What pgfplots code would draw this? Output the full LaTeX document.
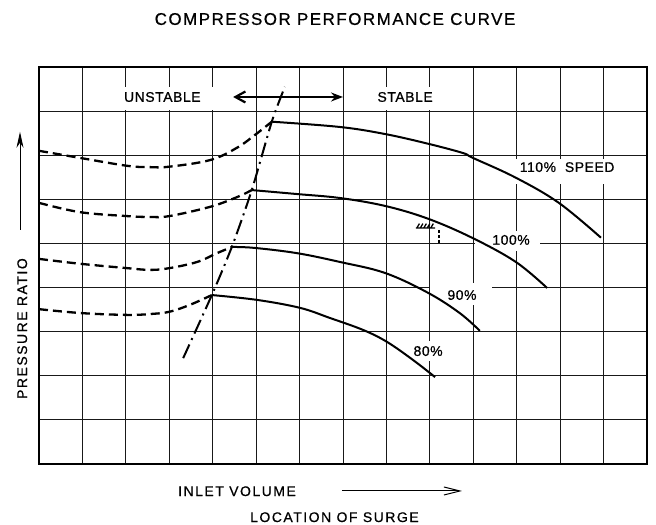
\documentclass[border=0pt]{standalone}
\usepackage{fontspec}
\setmainfont{Liberation Sans}
\usepackage{pgfplots}
\pgfplotsset{compat=1.18}
\usetikzlibrary{arrows.meta}
\newfontfamily\lbl[LetterSpace=4, FakeBold=0.7]{Liberation Sans}
\newfontfamily\ttl[LetterSpace=9, FakeBold=0.7]{Liberation Sans}
\newfontfamily\btm[LetterSpace=11, FakeBold=0.7]{Liberation Sans}
\tikzset{
 dsh/.style={black, line width=2.3bp, dash pattern=on 9bp off 5bp, smooth, tension=0.6},
 sld/.style={black, line width=2bp, smooth, tension=0.6},
 wbox/.style={fill=white, inner sep=0pt, draw=none},
 lab/.style={font=\lbl\fontsize{14}{16}\selectfont, inner sep=0pt}}
\begin{document}
\begin{tikzpicture}
\begin{axis}[name=ax, scale only axis, width=608bp, height=397bp,
 xmin=0, xmax=14, ymin=0, ymax=9,
 xtick={0,...,14}, ytick={0,...,9}, xticklabels={}, yticklabels={},
 major tick length=0pt,
 grid=major, major grid style={black!90, line width=0.9bp},
 axis line style={black, line width=1.2bp},
 clip=false, unbounded coords=jump]
% white gaps in the grid around labels
\node[wbox, minimum width=98bp, minimum height=23bp] at (axis cs:2.95,8.29) {};
\node[wbox, minimum width=68bp, minimum height=23bp] at (axis cs:8.45,8.29) {};
\node[wbox, minimum width=110bp, minimum height=25bp] at (axis cs:12.0,6.64) {};
\node[wbox, minimum width=65bp, minimum height=20bp] at (axis cs:10.79,5.06) {};
\node[wbox, minimum width=62bp, minimum height=22bp] at (axis cs:9.72,3.85) {};
\node[wbox, minimum width=40bp, minimum height=20bp] at (axis cs:8.96,2.56) {};
% labels inside
\node[lab] at (axis cs:2.84,8.32) {UNSTABLE};
\node[lab] at (axis cs:8.43,8.32) {STABLE};
\node[lab] at (axis cs:12.16,6.73) {110\%\ \ SPEED};
\node[lab] at (axis cs:10.87,5.08) {100\%};
\node[lab] at (axis cs:9.74,3.83) {90\%};
\node[lab] at (axis cs:8.96,2.56) {80\%};
% 110 %
\addplot[dsh] coordinates {(0,7.10) (0.94,6.94) (2.03,6.76) (2.56,6.73) (3.0,6.74) (3.94,6.89) (4.56,7.17) (5.0,7.48) (5.36,7.76)};
\addplot[sld] coordinates {(5.36,7.76) (6.93,7.64) (7.97,7.48) (8.96,7.26) (9.76,7.05) (9.99,6.94) (10.98,6.49) (11.97,5.92) (12.94,5.13)};
% 100 %
\addplot[dsh] coordinates {(0,5.92) (0.94,5.71) (2.03,5.62) (2.56,5.60) (3.0,5.62) (3.94,5.83) (4.56,6.05) (4.90,6.21)};
\addplot[sld] coordinates {(4.90,6.21) (5.94,6.12) (6.93,6.03) (7.97,5.85) (8.96,5.56) (9.99,5.12) (10.98,4.58) (11.7,3.99)};
% 90 %
\addplot[dsh] coordinates {(0,4.65) (0.94,4.54) (2.03,4.44) (2.56,4.40) (3.0,4.44) (3.64,4.58) (4.1,4.78) (4.44,4.92)};
\addplot[sld] coordinates {(4.44,4.92) (4.95,4.90) (5.94,4.78) (6.93,4.58) (7.97,4.33) (8.96,3.88) (9.69,3.42) (10.15,3.02)};
% 80 %
\addplot[dsh] coordinates {(0,3.51) (0.99,3.42) (2.03,3.38) (2.56,3.40) (3.0,3.45) (3.48,3.61) (3.98,3.83)};
\addplot[sld] coordinates {(3.98,3.83) (5.02,3.72) (6.01,3.54) (6.70,3.31) (7.46,3.04) (8.01,2.77) (8.61,2.36) (9.12,1.97)};
% surge line
\addplot[black, line width=2bp, dash pattern=on 15bp off 5bp on 2bp off 5bp, smooth, tension=0.4]
 coordinates {(3.32,2.40) (3.98,3.83) (4.44,4.92) (4.90,6.21) (5.36,7.76) (5.66,8.55)};
% surge control symbol
\addplot[black, line width=1.3bp] coordinates {(8.68,5.35) (9.12,5.35) (9.12,nan)
 (8.70,5.35) (8.76,5.45) (8.70,nan) (8.78,5.35) (8.84,5.45) (8.78,nan)
 (8.86,5.35) (8.92,5.45) (8.86,nan) (8.94,5.35) (9.00,5.45) (8.94,nan)
 (9.02,5.35) (9.08,5.45)};
\addplot[black, line width=1.6bp, dash pattern=on 3bp off 2bp] coordinates {(9.21,5.31) (9.21,5.01)};
% double arrow
\addplot[black, line width=2.2bp, {Straight Barb[length=10bp,width=11bp]}-{Stealth[length=12bp,width=9bp,inset=4bp]}] coordinates {(4.47,8.32) (7.0,8.32)};
% outer texts
\node[font=\ttl\fontsize{17}{19}\selectfont, anchor=base, inner sep=0pt] at (axis cs:6.816,9.955) {COMPRESSOR PERFORMANCE CURVE};
\node[font=\btm\fontsize{14}{16}\selectfont, anchor=base west, inner sep=0pt] at (axis cs:3.2,-0.726) {INLET VOLUME};
\node[font=\btm\fontsize{14}{16}\selectfont, anchor=base west, inner sep=0pt] at (axis cs:4.858,-1.315) {LOCATION OF SURGE};
\node[font=\btm\fontsize{14}{16}\selectfont, anchor=base, rotate=90, inner sep=0pt] at (axis cs:-0.276,3.07) {PRESSURE RATIO};
\addplot[black, line width=1bp, -{Straight Barb[length=16bp,width=8bp]}] coordinates {(6.975,-0.612) (9.74,-0.612)};
\addplot[black, line width=1bp, -{Stealth[length=16bp,width=7bp]}] coordinates {(-0.4375,5.31) (-0.4375,7.53)};
\end{axis}
\pgfresetboundingbox
\path[use as bounding box] ([shift={(-39bp,-61bp)}]ax.south west) rectangle ([shift={(9bp,67bp)}]ax.north east);
\end{tikzpicture}
\end{document}
